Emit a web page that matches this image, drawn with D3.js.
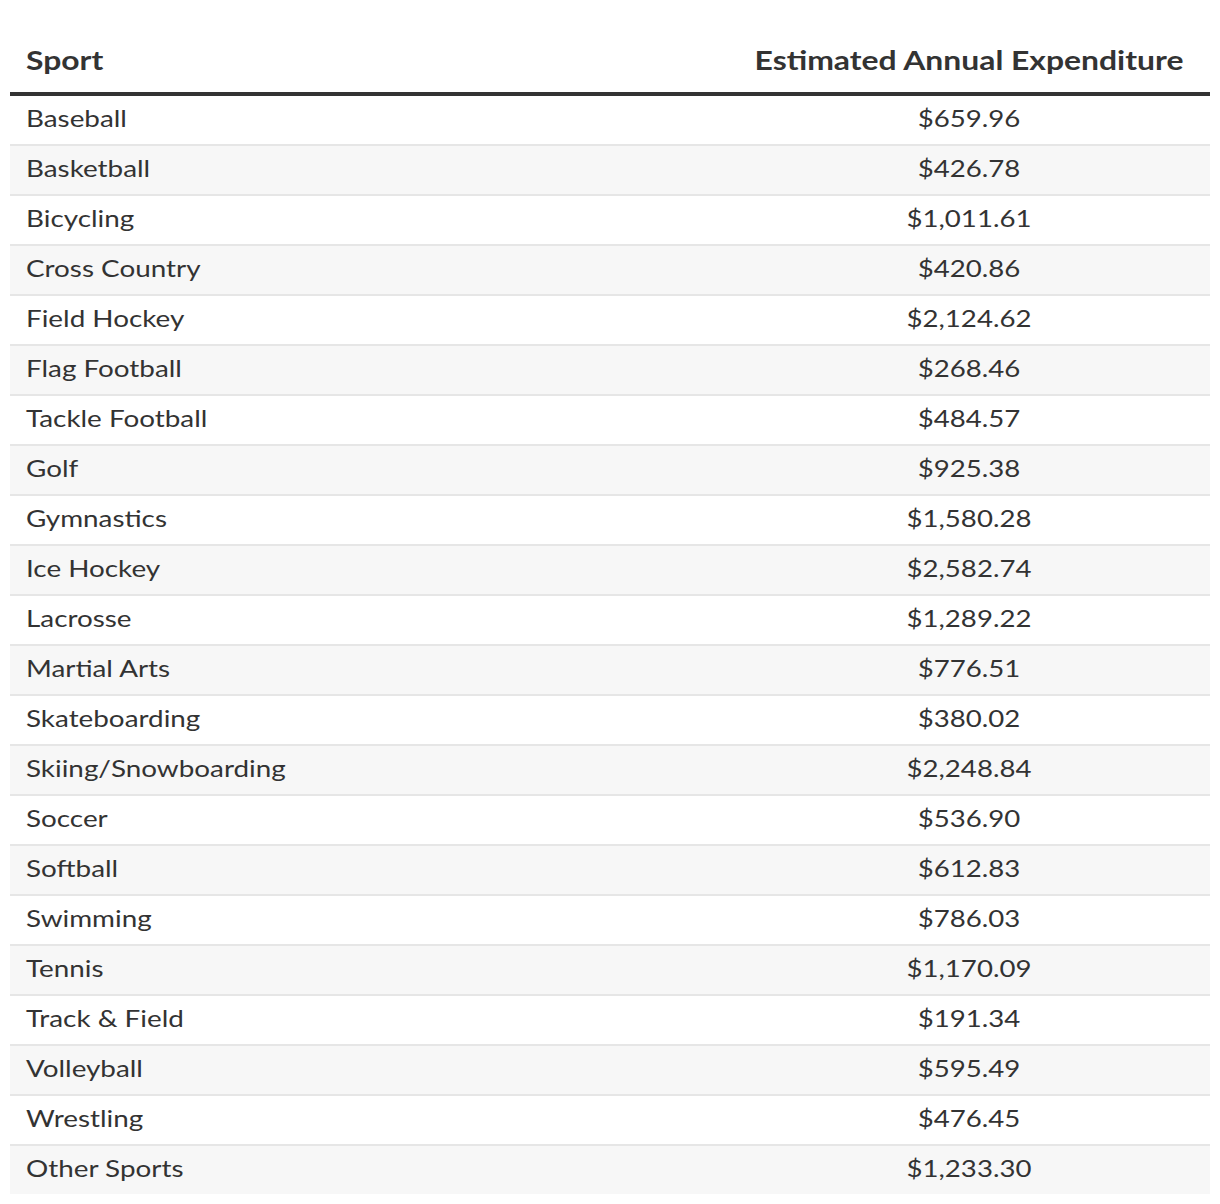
<!DOCTYPE html>
<html><head><meta charset="utf-8">
<script src="https://cdn.jsdelivr.net/npm/d3@7"></script>
<style>body{margin:0;background:#fff}svg{display:block}</style>
</head><body>
<script>
const headers = ["Sport", "Estimated Annual Expenditure"];
const sports = ["Baseball","Basketball","Bicycling","Cross Country","Field Hockey","Flag Football","Tackle Football","Golf","Gymnastics","Ice Hockey","Lacrosse","Martial Arts","Skateboarding","Skiing/Snowboarding","Soccer","Softball","Swimming","Tennis","Track & Field","Volleyball","Wrestling","Other Sports"];
const expenditure = [659.96,426.78,1011.61,420.86,2124.62,268.46,484.57,925.38,1580.28,2582.74,1289.22,776.51,380.02,2248.84,536.90,612.83,786.03,1170.09,191.34,595.49,476.45,1233.30];

const W = 1220, H = 1204;
const left = 10, right = 1210, tableTop = 96;
const rowPitch = 50;
const svg = d3.select("body").append("svg").attr("width", W).attr("height", H);
const font = "Lato, 'Open Sans', sans-serif";
const fmt = d3.format("$,.2f");

const y = d3.scaleBand().domain(sports).range([tableTop, tableTop + rowPitch * sports.length]).paddingInner(0).paddingOuter(0);
const valueX = 969;
const sxBody = 1.16, sxHead = 1.18, sxValue = 1.15;

function label(g, x, yy, txt, opts) {
  const t = g.append("g").attr("transform", `translate(${x},${yy}) scale(${opts.sx},1)`)
    .append("text").text(txt)
    .attr("font-family", font).attr("font-size", opts.size).attr("font-weight", opts.weight || 400)
    .attr("fill", "#333").attr("text-anchor", opts.anchor || "start");
  if (opts.dy) t.attr("dy", opts.dy);
  return t;
}

// header
label(svg, 26, 70, headers[0], {sx: sxHead, size: 27, weight: 700});
label(svg, valueX, 70, headers[1], {sx: sxHead, size: 27, weight: 700, anchor: "middle"});
svg.append("rect").attr("x", left).attr("y", 92).attr("width", right - left).attr("height", 4).attr("fill", "#333");

const data = sports.map((s, i) => ({s, v: expenditure[i], i}));
const rows = svg.append("g").selectAll("g").data(data).join("g");
rows.append("rect").attr("x", left).attr("y", d => y(d.s)).attr("width", right - left).attr("height", y.bandwidth() - 2)
  .attr("fill", d => d.i % 2 ? "#f7f7f7" : "#fff");
rows.filter(d => d.i < sports.length - 1).append("rect").attr("x", left).attr("y", d => y(d.s) + y.bandwidth() - 2)
  .attr("width", right - left).attr("height", 2).attr("fill", "#e6e6e6");
rows.each(function(d) {
  const g = d3.select(this);
  label(g, 26, y(d.s) + 23, d.s, {sx: sxBody, size: 24, dy: "0.35em"});
  label(g, valueX, y(d.s) + 23, fmt(d.v), {sx: sxValue, size: 24, dy: "0.35em", anchor: "middle"});
});
</script>
</body></html>
